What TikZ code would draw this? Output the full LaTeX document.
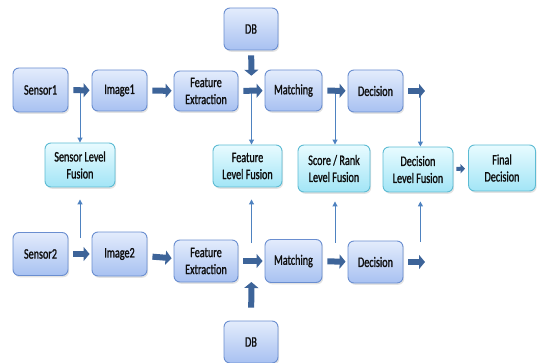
\documentclass[tikz,border=0pt]{standalone}
\usepackage{fontspec}
\setsansfont{Carlito}[FakeStretch=0.7, FakeBold=1.2]
\usetikzlibrary{arrows.meta, positioning, shadows}

\definecolor{boxline}{HTML}{6A8ED0}
\definecolor{boxtop}{HTML}{E3ECFC}
\definecolor{boxbot}{HTML}{A8C1F1}
\definecolor{fuseline}{HTML}{5DBBD3}
\definecolor{fusetop}{HTML}{E8FBFF}
\definecolor{fusebot}{HTML}{A2E5F6}
\definecolor{fatblue}{HTML}{3D6499}
\definecolor{thinblue}{HTML}{4E82C0}

\begin{document}
\begin{tikzpicture}[x=1pt, y=-1pt,
    every node/.style={font=\sffamily\fontsize{14.5}{17}\selectfont, text=black!95, align=center},
    stage/.style={draw=boxline, line width=0.9pt, rounded corners=6pt, top color=boxtop, bottom color=boxbot,
        drop shadow={shadow xshift=1.2pt, shadow yshift=-1.8pt, opacity=0.22}, inner sep=1pt},
    fusion/.style={draw=fuseline, line width=0.9pt, rounded corners=6pt, top color=fusetop, bottom color=fusebot,
        drop shadow={shadow xshift=1.2pt, shadow yshift=-1.8pt, opacity=0.22}, inner sep=1pt},
    fat/.style={draw=fatblue, line width=6pt, -{Triangle[length=6pt, width=14pt]}, shorten <=5pt, shorten >=2pt},
    smallfat/.style={draw=fatblue, line width=4pt, -{Triangle[length=4.5pt, width=9pt]}, shorten <=3pt, shorten >=3pt},
    thinarr/.style={draw=thinblue, line width=1pt, -{Triangle[length=5pt, width=5pt]}}]
        % Multimodal fusion levels
        \useasboundingbox (0,0) rectangle (537,363);

        \node[stage, minimum width=55pt, minimum height=44pt] (s1) at (40.5,90) {Sensor1};
        \node[stage, minimum width=55pt, minimum height=41pt] (im1) at (119.5,90.5) {Image1};
        \node[stage, minimum width=64pt, minimum height=40pt] (fe1) at (206,91) {Feature\\Extraction};
        \node[stage, minimum width=57pt, minimum height=41pt] (m1) at (293.5,90.5) {Matching};
        \node[stage, minimum width=55pt, minimum height=42pt] (d1) at (375.5,91) {Decision};
        \node[stage, minimum width=54pt, minimum height=42pt] (db1) at (251,29) {DB};

        \node[fusion, minimum width=70pt, minimum height=44pt] (slf) at (80,165) {Sensor Level\\Fusion};
        \node[fusion, minimum width=69pt, minimum height=42pt] (flf) at (247.5,166) {Feature\\Level Fusion};
        \node[fusion, minimum width=72pt, minimum height=47pt] (srlf) at (334,168.5) {Score / Rank\\Level Fusion};
        \node[fusion, minimum width=70pt, minimum height=45pt] (dlf) at (418,169.5) {Decision\\Level Fusion};
        \node[fusion, minimum width=67pt, minimum height=46pt] (fin) at (502,168) {Final\\Decision};

        \node[stage, minimum width=55pt, minimum height=43pt] (s2) at (40.5,254) {Sensor2};
        \node[stage, minimum width=55pt, minimum height=44pt] (im2) at (119.5,254) {Image2};
        \node[stage, minimum width=64pt, minimum height=42pt] (fe2) at (206,261) {Feature\\Extraction};
        \node[stage, minimum width=57pt, minimum height=43pt] (m2) at (293.5,261) {Matching};
        \node[stage, minimum width=55pt, minimum height=42pt] (d2) at (375.5,262) {Decision};
        \node[stage, minimum width=54pt, minimum height=42pt] (db2) at (251,342) {DB};

        \coordinate (out1) at (427,91);
        \coordinate (out2) at (427,262);
        \path (s1) -- coordinate[midway] (j1) (im1);
        \path (fe1) -- coordinate[midway] (j2) (m1);
        \path (m1) -- coordinate[midway] (j3) (d1);
        \path (d1.east) -- coordinate[pos=0.72] (j4) (out1);
        \path (s2) -- coordinate[midway] (k1) (im2);
        \path (fe2) -- coordinate[midway] (k2) (m2);
        \path (m2) -- coordinate[midway] (k3) (d2);
        \path (d2.east) -- coordinate[pos=0.72] (k4) (out2);

        \draw[thinarr] (j1) -- (j1 |- slf.north);
        \draw[thinarr] (j2) -- (j2 |- flf.north);
        \draw[thinarr] (j3) -- (j3 |- srlf.north);
        \draw[thinarr] (j4) -- (j4 |- dlf.north);
        \draw[thinarr, shorten <=16pt, shorten >=12pt] (k1) -- (k1 |- slf.south);
        \draw[thinarr, shorten <=18pt, shorten >=12pt] (k2) -- (k2 |- flf.south);
        \draw[thinarr, shorten <=19pt, shorten >=9pt] (k3) -- (k3 |- srlf.south);
        \draw[thinarr, shorten <=20pt, shorten >=9pt] (k4) -- (k4 |- dlf.south);

        \draw[fat] (s1) -- (im1);
        \draw[fat] (im1) -- (fe1);
        \draw[fat] (fe1) -- (m1);
        \draw[fat] (m1) -- (d1);
        \draw[fat] (d1) -- (out1);
        \draw[fat, shorten >=15pt] (db1) -- (j2);
        \draw[smallfat] (dlf) -- (fin);

        \draw[fat] (s2) -- (im2);
        \draw[fat] (im2) -- (fe2);
        \draw[fat] (fe2) -- (m2);
        \draw[fat] (m2) -- (d2);
        \draw[fat] (d2) -- (out2);
        \draw[fat, shorten <=13pt, shorten >=21pt] (db2) -- (k2);
    \end{tikzpicture}
\end{document}
